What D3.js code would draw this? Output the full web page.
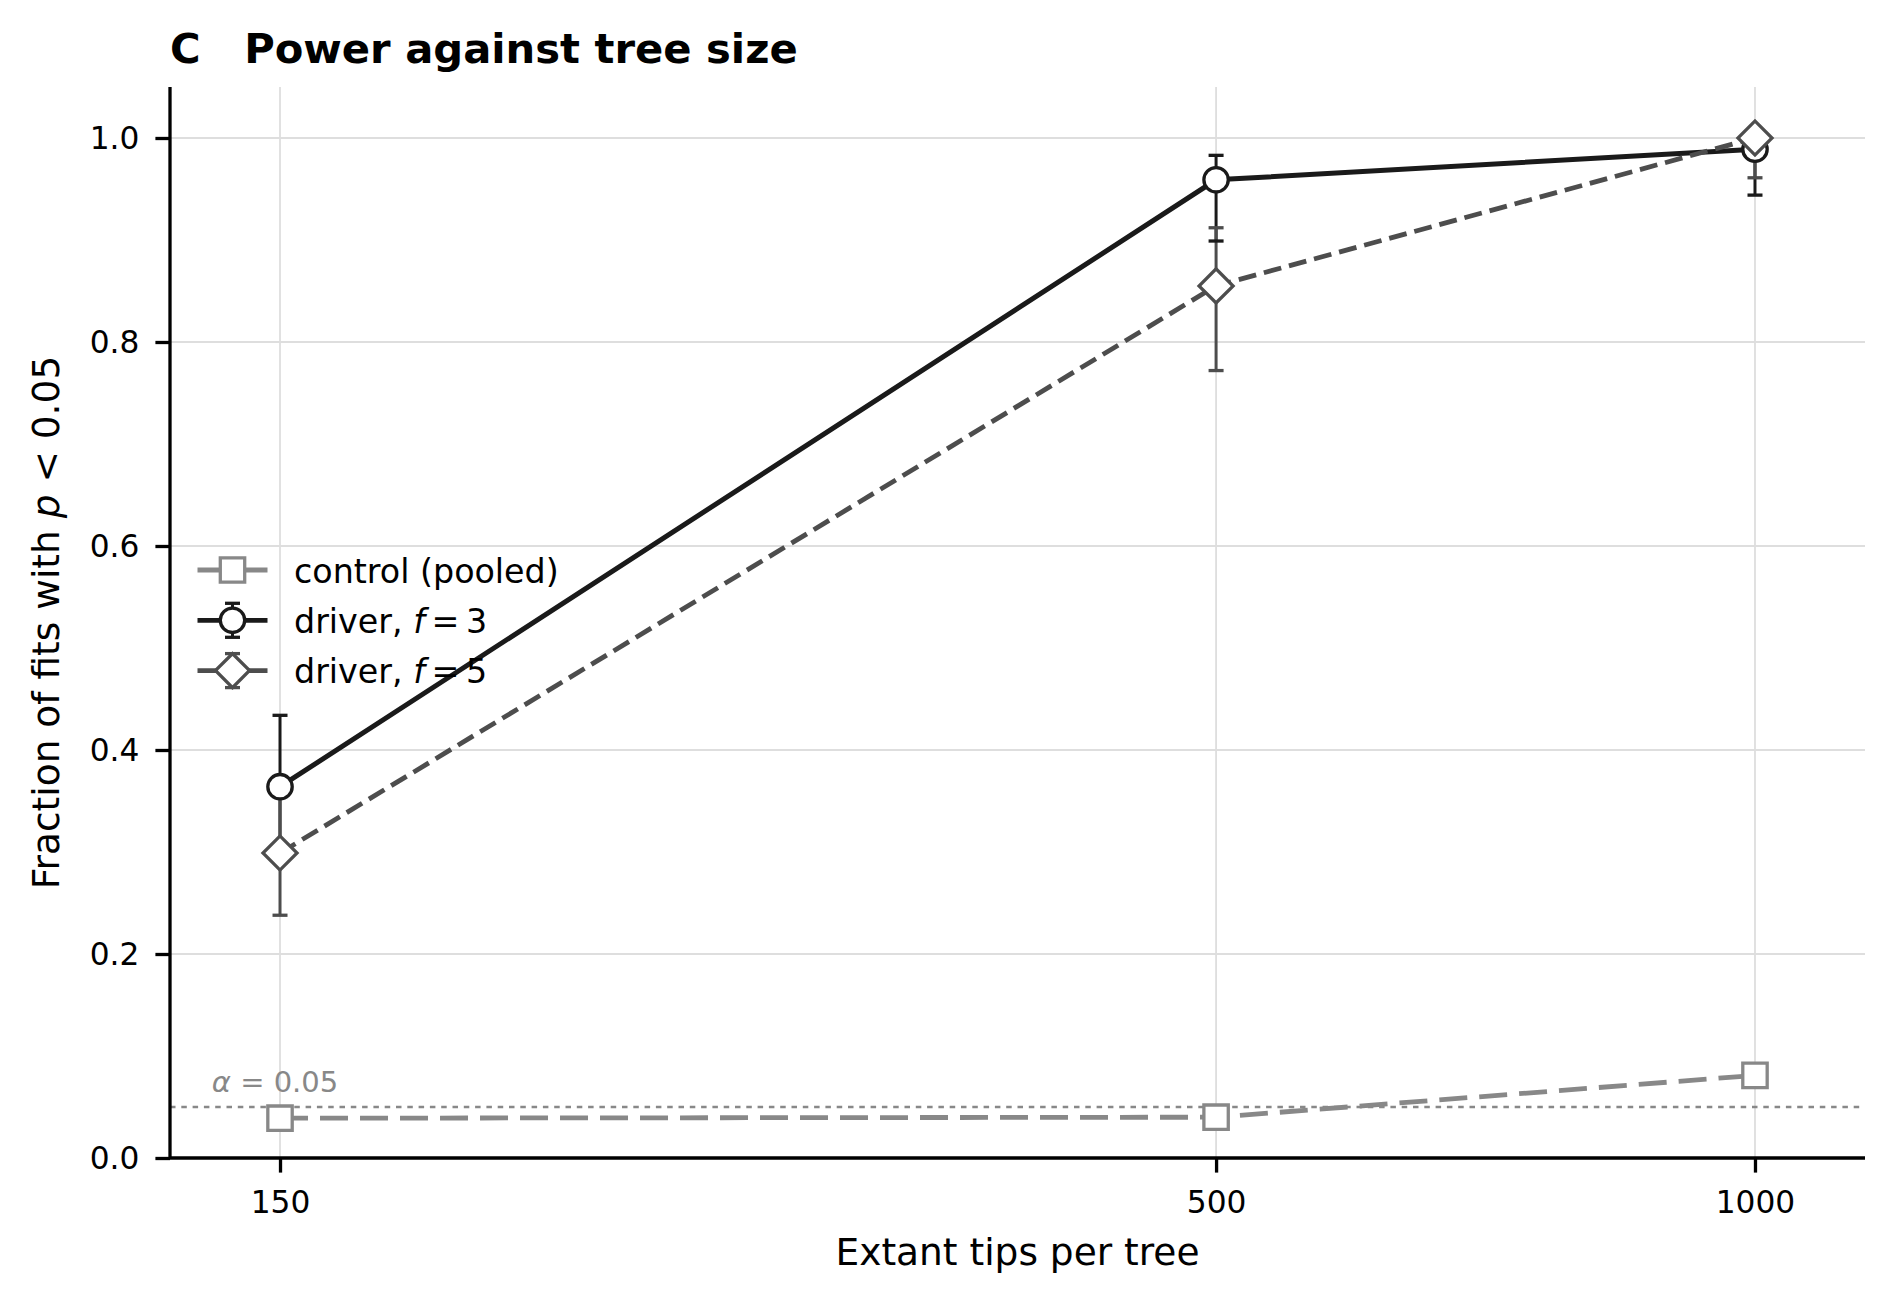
<!DOCTYPE html>
<html>
<head>
<meta charset="utf-8">
<script src="https://cdn.jsdelivr.net/npm/d3@7"></script>
<style>
  body { margin: 0; background: #fff; }
  text { font-family: "DejaVu Sans", sans-serif; }
</style>
</head>
<body>
<div id="chart"></div>
<script>
// values
var tips = [150, 500, 1000];
var tickLabels = ["150", "500", "1000"];
var yTicks = [0, 0.2, 0.4, 0.6, 0.8, 1.0];

var controlPower = [0.039, 0.040, 0.081];

var f3Power = [0.364, 0.959, 0.989];
var f3Lower = [0.305, 0.899, 0.944];
var f3Upper = [0.434, 0.983, 1.0];

var f5Power = [0.299, 0.855, 1.0];
var f5Lower = [0.238, 0.772, 0.961];
var f5Upper = [0.360, 0.912, 1.0];

var alphaLevel = 0.05;

var svgWidth = 1892;
var svgHeight = 1303;

var margin = {top: 87, right: 27, bottom: 145, left: 170};
var width = svgWidth - margin.left - margin.right;
var height = svgHeight - margin.top - margin.bottom;

var svg = d3.select("#chart")
  .append("svg")
  .attr("width", svgWidth)
  .attr("height", svgHeight);

var chartGroup = svg.append("g")
  .attr("transform", `translate(${margin.left}, ${margin.top})`);

var xScale = d3.scaleLog()
  .domain([150 / 1.152, 1000 * 1.152])
  .range([0, width]);

var yScale = d3.scaleLinear()
  .domain([0, 1.05])
  .range([height, 0]);

// grid
chartGroup.append("g").selectAll("line")
  .data(yTicks)
  .enter().append("line")
  .attr("x1", 0).attr("x2", width)
  .attr("y1", d => yScale(d)).attr("y2", d => yScale(d))
  .attr("stroke", "#dedede").attr("stroke-width", 1.8);

chartGroup.append("g").selectAll("line")
  .data(tips)
  .enter().append("line")
  .attr("x1", d => xScale(d)).attr("x2", d => xScale(d))
  .attr("y1", 0).attr("y2", height)
  .attr("stroke", "#dedede").attr("stroke-width", 1.8);

// alpha reference
chartGroup.append("line")
  .attr("x1", 0).attr("x2", width)
  .attr("y1", yScale(alphaLevel)).attr("y2", yScale(alphaLevel))
  .attr("stroke", "#888").attr("stroke-width", 2.6)
  .attr("stroke-dasharray", "5.5,5.8");

var alphaText = chartGroup.append("text")
  .attr("x", xScale(137.4))
  .attr("y", yScale(0.065))
  .attr("fill", "#888")
  .style("font-size", "29px");
alphaText.append("tspan").style("font-style", "italic").text("α");
alphaText.append("tspan").text(" = 0.05");

var line = d3.line()
  .x(d => xScale(d[0]))
  .y(d => yScale(d[1]));

// lines
chartGroup.append("path")
  .datum(d3.zip(tips, controlPower))
  .attr("d", line)
  .attr("fill", "none").attr("stroke", "#888888")
  .attr("stroke-width", 4.8).attr("stroke-dasharray", "28,12");

// error bars
function errBars(lower, upper, color) {
  var rows = d3.zip(tips, lower, upper);
  chartGroup.append("g").selectAll("line")
    .data(rows)
    .enter().append("line")
    .attr("x1", d => xScale(d[0])).attr("x2", d => xScale(d[0]))
    .attr("y1", d => yScale(d[1])).attr("y2", d => yScale(d[2]))
    .attr("stroke", color).attr("stroke-width", 3);
  return rows;
}
function errCaps(rows, color) {
  var g = chartGroup.append("g");
  [1, 2].forEach(function(k) {
    g.selectAll(null)
      .data(rows)
      .enter().append("line")
      .attr("x1", d => xScale(d[0]) - 7.5).attr("x2", d => xScale(d[0]) + 7.5)
      .attr("y1", d => yScale(d[k])).attr("y2", d => yScale(d[k]))
      .attr("stroke", color).attr("stroke-width", 3.3);
  });
}
var f3Rows = errBars(f3Lower, f3Upper, "#1a1a1a");
var f5Rows = errBars(f5Lower, f5Upper, "#4d4d4d");
errCaps(f3Rows, "#1a1a1a");
errCaps(f5Rows, "#4d4d4d");

chartGroup.append("path")
  .datum(d3.zip(tips, f3Power))
  .attr("d", line)
  .attr("fill", "none").attr("stroke", "#1a1a1a")
  .attr("stroke-width", 5);

chartGroup.append("path")
  .datum(d3.zip(tips, f5Power))
  .attr("d", line)
  .attr("fill", "none").attr("stroke", "#4d4d4d")
  .attr("stroke-width", 4.8).attr("stroke-dasharray", "18,8");

// markers
var squareSym = d3.symbol().type(d3.symbolSquare).size(595);
var diamondSym = d3.symbol().type(d3.symbolSquare).size(578);

chartGroup.selectAll(".ctrl")
  .data(d3.zip(tips, controlPower))
  .enter().append("path")
  .attr("d", squareSym)
  .attr("transform", d => `translate(${xScale(d[0])}, ${yScale(d[1])})`)
  .attr("fill", "#fff").attr("stroke", "#888888").attr("stroke-width", 3.3);

chartGroup.selectAll(".f3")
  .data(d3.zip(tips, f3Power))
  .enter().append("circle")
  .attr("cx", d => xScale(d[0])).attr("cy", d => yScale(d[1]))
  .attr("r", 12.2)
  .attr("fill", "#fff").attr("stroke", "#1a1a1a").attr("stroke-width", 3.3);

chartGroup.selectAll(".f5")
  .data(d3.zip(tips, f5Power))
  .enter().append("path")
  .attr("d", diamondSym)
  .attr("transform", d => `translate(${xScale(d[0])}, ${yScale(d[1])}) rotate(45)`)
  .attr("fill", "#fff").attr("stroke", "#4d4d4d").attr("stroke-width", 3.3);

// axes
var xAxis = d3.axisBottom(xScale)
  .tickValues(tips)
  .tickFormat((d, i) => tickLabels[i])
  .tickSize(14.6).tickPadding(18);
var yAxis = d3.axisLeft(yScale)
  .tickValues(yTicks)
  .tickFormat(d3.format(".1f"))
  .tickSize(14.6).tickPadding(16);

var xg = chartGroup.append("g")
  .attr("transform", `translate(0, ${height})`)
  .call(xAxis);
var yg = chartGroup.append("g").call(yAxis);

[xg, yg].forEach(function(g) {
  g.select(".domain").remove();
  g.selectAll(".tick line").attr("stroke", "#000").attr("stroke-width", 3.3);
  g.selectAll(".tick text")
    .attr("fill", "#000")
    .style("font-family", "DejaVu Sans")
    .style("font-size", "31.25px");
});

chartGroup.append("line")
  .attr("x1", 0).attr("x2", 0).attr("y1", 0).attr("y2", height)
  .attr("stroke", "#000").attr("stroke-width", 3.3);
chartGroup.append("line")
  .attr("x1", 0).attr("x2", width).attr("y1", height).attr("y2", height)
  .attr("stroke", "#000").attr("stroke-width", 3.3);

// axis labels
chartGroup.append("text")
  .attr("x", width / 2)
  .attr("y", height + 107)
  .attr("text-anchor", "middle")
  .style("font-size", "37.5px")
  .text("Extant tips per tree");

var yLabel = chartGroup.append("text")
  .attr("transform", `translate(${59 - margin.left}, ${height / 2}) rotate(-90)`)
  .attr("text-anchor", "middle")
  .style("font-size", "37.5px");
yLabel.append("tspan").text("Fraction of fits with ");
yLabel.append("tspan").style("font-style", "italic").text("p");
yLabel.append("tspan").text(" < 0.05");

// title
svg.append("text")
  .attr("x", margin.left)
  .attr("y", 63)
  .attr("xml:space", "preserve")
  .style("white-space", "pre")
  .style("font-size", "41.7px")
  .style("font-weight", "bold")
  .text("C   Power against tree size");

// legend
var legendItems = [
  {parts: ["control (pooled)"], color: "#888888", marker: "square", bars: false},
  {parts: ["driver, ", "f", "\u2009=\u20093"], color: "#1a1a1a", marker: "circle", bars: true},
  {parts: ["driver, ", "f", "\u2009=\u20095"], color: "#4d4d4d", marker: "diamond", bars: true}
];

var legend = svg.append("g").attr("transform", "translate(232.5, 570)");

legendItems.forEach(function(item, i) {
  var row = legend.append("g").attr("transform", `translate(0, ${i * 50.3})`);
  row.append("line")
    .attr("x1", -35).attr("x2", 35)
    .attr("stroke", item.color).attr("stroke-width", 4.8);
  if (item.bars) {
    row.append("line").attr("y1", -17).attr("y2", 17)
      .attr("stroke", item.color).attr("stroke-width", 3);
    [-17, 17].forEach(function(cy) {
      row.append("line").attr("x1", -7.5).attr("x2", 7.5)
        .attr("y1", cy).attr("y2", cy)
        .attr("stroke", item.color).attr("stroke-width", 3.3);
    });
  }
  if (item.marker === "square") {
    row.append("path").attr("d", squareSym)
      .attr("fill", "#fff").attr("stroke", item.color).attr("stroke-width", 3.3);
  } else if (item.marker === "circle") {
    row.append("circle").attr("r", 12.2)
      .attr("fill", "#fff").attr("stroke", item.color).attr("stroke-width", 3.3);
  } else {
    row.append("path").attr("d", diamondSym).attr("transform", "rotate(45)")
      .attr("fill", "#fff").attr("stroke", item.color).attr("stroke-width", 3.3);
  }
  var t = row.append("text")
    .attr("x", 61.5)
    .attr("y", 12.7)
    .attr("xml:space", "preserve")
    .style("white-space", "pre")
    .style("font-size", "33.3px");
  item.parts.forEach(function(p, j) {
    t.append("tspan").style("font-style", j === 1 ? "italic" : "normal").text(p);
  });
});
</script>
</body>
</html>
